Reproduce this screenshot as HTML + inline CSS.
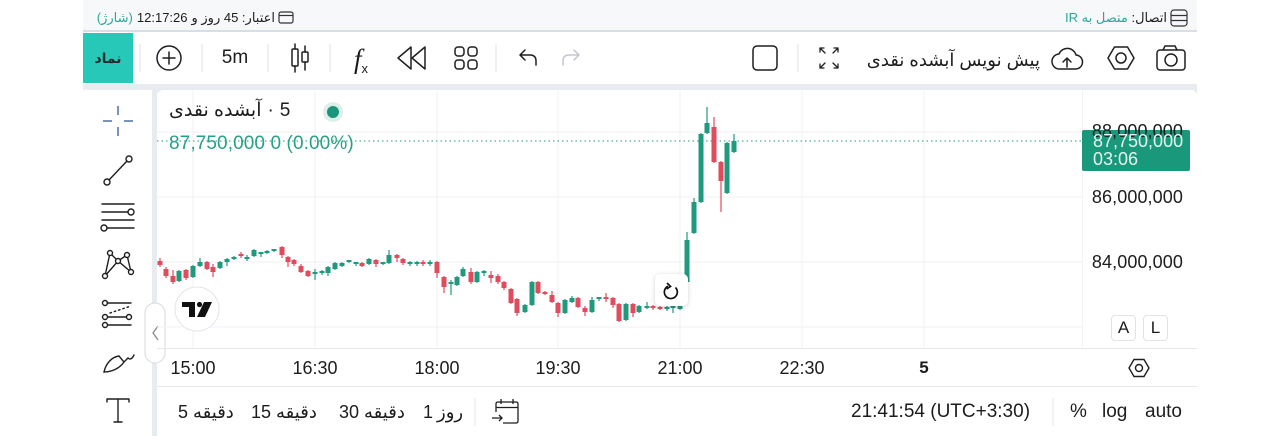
<!DOCTYPE html>
<html><head><meta charset="utf-8">
<style>
*{margin:0;padding:0;box-sizing:border-box}
body{width:1280px;height:436px;position:relative;background:#fff;overflow:hidden;font-family:"Liberation Sans","DejaVu Sans",sans-serif;color:#1c1c1c}
.t{position:absolute;white-space:nowrap;line-height:20px;height:20px}
.c{text-align:center}
.tm{font-size:18px;width:80px;text-align:center;top:358px}
.pl{font-size:18px;left:1080px;width:103px;text-align:right;letter-spacing:0.1px}
</style></head><body>
<svg width="1280" height="436" style="position:absolute;left:0;top:0">
<rect x="83" y="0" width="1114" height="31" fill="#f7f8fa"/>
<rect x="83" y="30" width="1114" height="2" fill="#d9dee6"/>
<rect x="83" y="32" width="1114" height="52" fill="#fff"/>
<rect x="83" y="84" width="1114" height="352" fill="#e8ebef"/>
<rect x="83" y="90" width="69" height="346" fill="#fff"/>
<rect x="157" y="90" width="1040" height="350" rx="6" fill="#fff"/>
<rect x="83" y="33" width="50" height="50" fill="#27c8b8"/>
<g stroke="#e3e6eb" stroke-width="1.2">
<line x1="140" y1="44" x2="140" y2="72"/><line x1="202" y1="44" x2="202" y2="72"/>
<line x1="268" y1="44" x2="268" y2="72"/><line x1="330" y1="44" x2="330" y2="72"/>
<line x1="496" y1="44" x2="496" y2="72"/><line x1="798" y1="44" x2="798" y2="72"/>
</g>
<g fill="none" stroke="#1f1f1f" stroke-width="1.5" stroke-linecap="round" stroke-linejoin="round">
<circle cx="169" cy="58" r="12"/><path d="M169 52V64M163 58H175"/>
<rect x="292" y="49" width="6" height="17" rx="1"/><path d="M295 44V49M295 66V72"/>
<rect x="302" y="52" width="6" height="10" rx="1"/><path d="M305 46V52M305 62V70"/>
<path d="M411 47L398 58L411 69Z"/><path d="M425 47L412 58L425 69Z"/>
<rect x="455" y="47" width="9" height="9" rx="3"/><rect x="468" y="47" width="9" height="9" rx="3"/>
<rect x="455" y="60" width="9" height="9" rx="3"/><rect x="468" y="60" width="9" height="9" rx="3"/>
<path d="M525 50L520 55L525 60M520 55H530Q536 55 536 61V65"/>
<rect x="753" y="46" width="24" height="24" rx="4"/>
<path d="M820 48L825 53M820 52V48H824M838 48L833 53M834 48H838V52M820 68L825 63M820 64V68H824M838 68L833 63M834 68H838V64" stroke-width="1.3"/>
<path d="M1060 69H1075A7 7 0 0 0 1076 55A9 9 0 0 0 1059 54A7.5 7.5 0 0 0 1060 69Z"/>
<path d="M1067 67V58M1063 62L1067 58L1071 62"/>
<polygon points="1108,58 1114.5,47 1127.5,47 1134,58 1127.5,69 1114.5,69"/><circle cx="1121" cy="58" r="5"/>
<rect x="1157" y="50" width="28" height="20" rx="3"/><path d="M1163 50L1165 46H1175L1177 50"/><circle cx="1171" cy="60" r="6"/>
</g>
<path d="M574 50L579 55L574 60M579 55H569Q563 55 563 61V65" fill="none" stroke="#c2c6cd" stroke-width="1.5" stroke-linecap="round" stroke-linejoin="round"/>
<g fill="none" stroke="#333" stroke-width="1.2">
<rect x="279" y="12" width="14" height="11" rx="2"/><path d="M279 15.5H293"/>
<rect x="1171" y="10" width="16" height="16" rx="3"/><path d="M1171 15.5H1187M1171 20.5H1187"/>
</g>
<path d="M103 121H112M124 121H133M118 106V115M118 127V136" stroke="#4d6fa8" stroke-width="1.5" fill="none"/>
<g fill="none" stroke="#1f1f1f" stroke-width="1.4" stroke-linecap="round">
<circle cx="107" cy="182" r="3"/><circle cx="129" cy="159" r="3"/><path d="M109 180L127 161"/>
<path d="M102 204H134M102 212H128M102 220H134M107 228H134"/><circle cx="131" cy="212" r="3"/><circle cx="104" cy="228" r="3"/>
<path d="M110 253L118 261L127 255M110 253L105 276M127 255L131 272M105 276L118 261L131 272"/>
<circle cx="110" cy="253" r="2.5" fill="#fff"/><circle cx="127" cy="255" r="2.5" fill="#fff"/><circle cx="118" cy="261" r="2.5" fill="#fff"/><circle cx="105" cy="276" r="2.5" fill="#fff"/><circle cx="131" cy="272" r="2.5" fill="#fff"/>
<path d="M107 303H131M108 317H126M108 325H131"/><circle cx="105" cy="303" r="2.5"/><circle cx="105" cy="317" r="2.5"/><circle cx="105" cy="325" r="2.5"/><circle cx="129" cy="317" r="2.5"/>
<path d="M110 313L131 306" stroke-dasharray="1.5 3"/>
<path d="M104 372C106 363 112 357 119 356L124 362C120 368 112 372 104 372ZM124 362L128 358Q131 361 134 355"/>
<path d="M107 399H129M107 399V402M129 399V402M118 399V422M114 422H122"/>
</g>
<rect x="145" y="303" width="20" height="60" rx="10" fill="#fff" stroke="#d6dae1"/>
<path d="M158 326L153 333L158 340" fill="none" stroke="#888" stroke-width="1.3"/>
<g stroke="#f0f2f5" stroke-width="1">
<line x1="193" y1="90" x2="193" y2="348"/><line x1="315" y1="90" x2="315" y2="348"/>
<line x1="437" y1="90" x2="437" y2="348"/><line x1="558" y1="90" x2="558" y2="348"/>
<line x1="680" y1="90" x2="680" y2="348"/><line x1="802" y1="90" x2="802" y2="348"/>
<line x1="924" y1="90" x2="924" y2="348"/>
<line x1="157" y1="132" x2="1082" y2="132"/><line x1="157" y1="197" x2="1082" y2="197"/>
<line x1="157" y1="262" x2="1082" y2="262"/><line x1="157" y1="327" x2="1082" y2="327"/>
</g>
<line x1="1082.5" y1="90" x2="1082.5" y2="348" stroke="#f3f4f6"/>
<line x1="157" y1="348.5" x2="1197" y2="348.5" stroke="#e4e7ec"/>
<line x1="157" y1="386.5" x2="1197" y2="386.5" stroke="#e4e7ec"/>
<line x1="475" y1="398" x2="475" y2="426" stroke="#e3e6eb"/>
<line x1="1053" y1="398" x2="1053" y2="426" stroke="#e3e6eb"/>
<g fill="none" stroke="#1f1f1f" stroke-width="1.3">
<path d="M496 412V404Q496 402 498 402H516Q518 402 518 404V421Q518 423 516 423H503M496 407.5H518M501 399V404M513 399V404M492 418H502M499 415L502 418L499 421"/>
</g>
<polygon points="1129,368 1134,359.5 1144,359.5 1149,368 1144,376.5 1134,376.5" fill="none" stroke="#1f1f1f" stroke-width="1.4"/>
<circle cx="1139" cy="368" r="3.5" fill="none" stroke="#1f1f1f" stroke-width="1.4"/>
<line x1="157" y1="141" x2="1082" y2="141" stroke="#1f9a7d" stroke-width="1" stroke-dasharray="1.5 3"/>
<g fill="#1f9a7d">
<path d="M179 270V282M193 265V278M200 258V267M220 261V269M227 258V266M234 256V260M247 255V261M254 249V257M261 252V257M267 250V254M274 249V252M315 269V280M322 270V275M328 266V276M335 262V270M342 262V267M349 260V263M356 262V266M369 258V265M383 262V265M389 250V264M410 261V266M417 261V266M430 260V266M451 280V295M457 276V286M463 267V277M477 271V283M484 270V276M525 304V313M532 281V306M565 299V314M572 296V303M592 297V313M599 297V301M626 303V321M639 305V313M647 302V309M667 306V311M673 304V313M680 305V310M687 232V283M694 198V234M701 133V203M707 107V134M727 142V194M734 134V153" stroke="#1f9a7d" stroke-width="1.2" fill="none"/>
<rect x="176.5" y="271" width="5" height="10"/><rect x="190.5" y="266" width="5" height="11"/><rect x="197.5" y="262" width="5" height="4"/><rect x="217.5" y="262" width="5" height="6"/><rect x="224.5" y="259" width="5" height="3"/><rect x="231.5" y="257" width="5" height="2"/><rect x="244.5" y="257" width="5" height="2"/><rect x="251.5" y="250" width="5" height="6"/><rect x="258.5" y="252" width="5" height="2"/><rect x="264.5" y="251" width="5" height="2"/><rect x="271.5" y="249" width="5" height="2"/><rect x="312.5" y="272" width="5" height="2"/><rect x="319.5" y="271" width="5" height="2"/><rect x="325.5" y="267" width="5" height="6"/><rect x="332.5" y="263" width="5" height="6"/><rect x="339.5" y="263" width="5" height="3"/><rect x="346.5" y="260" width="5" height="2"/><rect x="353.5" y="262" width="5" height="2"/><rect x="366.5" y="259" width="5" height="5"/><rect x="380.5" y="262" width="5" height="2"/><rect x="386.5" y="255" width="5" height="8"/><rect x="407.5" y="262" width="5" height="2"/><rect x="414.5" y="262" width="5" height="2"/><rect x="427.5" y="262" width="5" height="2"/><rect x="448.5" y="282" width="5" height="2"/><rect x="454.5" y="277" width="5" height="8"/><rect x="460.5" y="269" width="5" height="7"/><rect x="474.5" y="272" width="5" height="10"/><rect x="481.5" y="271" width="5" height="2"/><rect x="522.5" y="305" width="5" height="7"/><rect x="529.5" y="282" width="5" height="23"/><rect x="562.5" y="300" width="5" height="13"/><rect x="569.5" y="298" width="5" height="4"/><rect x="589.5" y="300" width="5" height="12"/><rect x="596.5" y="297" width="5" height="2"/><rect x="623.5" y="304" width="5" height="16"/><rect x="636.5" y="306" width="5" height="6"/><rect x="644.5" y="306" width="5" height="2"/><rect x="664.5" y="307" width="5" height="2"/><rect x="670.5" y="306" width="5" height="2"/><rect x="677.5" y="306" width="5" height="3"/><rect x="684.5" y="240" width="5" height="42"/><rect x="691.5" y="202" width="5" height="31"/><rect x="698.5" y="134" width="5" height="68"/><rect x="704.5" y="123" width="5" height="10"/><rect x="724.5" y="143" width="5" height="50"/><rect x="731.5" y="141" width="5" height="11"/>
</g>
<g fill="#e14b5e">
<path d="M160 258V267M166 267V278M173 270V284M186 269V280M207 261V270M213 264V277M241 252V258M282 246V258M288 256V267M294 259V266M301 264V273M308 270V277M362 262V267M376 259V267M397 254V262M403 258V265M423 260V266M437 261V278M444 276V293M471 268V284M491 271V283M498 274V284M504 281V290M511 288V304M517 298V316M538 281V294M545 291V295M552 291V303M558 302V317M578 297V308M585 306V316M606 293V302M613 297V308M619 303V322M633 303V317M653 305V310M660 306V310M714 117V163M721 161V212" stroke="#e14b5e" stroke-width="1.2" fill="none"/>
<rect x="157.5" y="261" width="5" height="4"/><rect x="163.5" y="269" width="5" height="7"/><rect x="170.5" y="276" width="5" height="6"/><rect x="183.5" y="270" width="5" height="8"/><rect x="204.5" y="262" width="5" height="7"/><rect x="210.5" y="267" width="5" height="5"/><rect x="238.5" y="254" width="5" height="2"/><rect x="279.5" y="247" width="5" height="8"/><rect x="285.5" y="257" width="5" height="5"/><rect x="291.5" y="260" width="5" height="4"/><rect x="298.5" y="266" width="5" height="6"/><rect x="305.5" y="271" width="5" height="5"/><rect x="359.5" y="263" width="5" height="3"/><rect x="373.5" y="260" width="5" height="4"/><rect x="394.5" y="255" width="5" height="3"/><rect x="400.5" y="259" width="5" height="4"/><rect x="420.5" y="262" width="5" height="2"/><rect x="434.5" y="262" width="5" height="11"/><rect x="441.5" y="277" width="5" height="10"/><rect x="468.5" y="272" width="5" height="10"/><rect x="488.5" y="275" width="5" height="3"/><rect x="495.5" y="276" width="5" height="6"/><rect x="501.5" y="282" width="5" height="6"/><rect x="508.5" y="289" width="5" height="14"/><rect x="514.5" y="299" width="5" height="14"/><rect x="535.5" y="282" width="5" height="11"/><rect x="542.5" y="292" width="5" height="2"/><rect x="549.5" y="295" width="5" height="7"/><rect x="555.5" y="303" width="5" height="10"/><rect x="575.5" y="298" width="5" height="9"/><rect x="582.5" y="308" width="5" height="4"/><rect x="603.5" y="297" width="5" height="2"/><rect x="610.5" y="298" width="5" height="7"/><rect x="616.5" y="304" width="5" height="17"/><rect x="630.5" y="304" width="5" height="9"/><rect x="650.5" y="306" width="5" height="2"/><rect x="657.5" y="307" width="5" height="2"/><rect x="711.5" y="127" width="5" height="35"/><rect x="718.5" y="162" width="5" height="19"/>
</g>
<circle cx="333" cy="112" r="10" fill="#dcefe9"/><circle cx="333" cy="112" r="6" fill="#1a957a"/>
<circle cx="197" cy="309" r="22" fill="#fff" stroke="#e3e6eb"/>
<path d="M182 302H195V317H189V307H182Z" fill="#111"/>
<circle cx="199.5" cy="304.5" r="2.6" fill="#111"/>
<path d="M204 302H212L205 317H197Z" fill="#111"/>
</svg>

<div style="position:absolute;left:655px;top:274px;width:33px;height:32px;background:#fff;border-radius:5px;box-shadow:0 1px 5px rgba(0,0,0,0.18)">
<svg width="33" height="32"><path d="M20.5 13.5A6.5 6.5 0 1 1 13 12.2" fill="none" stroke="#111" stroke-width="1.7"/><path d="M12 9L15.5 12.4L11.6 15" fill="none" stroke="#111" stroke-width="1.7"/></svg>
</div>

<div style="position:absolute;left:1082px;top:130px;width:108px;height:41px;background:#1a987b;border-radius:2px"></div>

<div class="t" style="top:8px;right:1005px;font-size:13px;display:flex;gap:4px;direction:ltr">
<span style="color:#2aa89a">(شارژ)</span><span>12:17:26</span><span dir="rtl">اعتبار: 45 روز و</span>
</div>
<div class="t" style="top:8px;right:113px;font-size:13px" dir="rtl">اتصال: <span style="color:#2aa89a">متصل به IR</span></div>

<div class="t c" style="left:83px;top:48px;width:50px;font-size:14px;font-weight:bold;color:#1d2d2b" dir="rtl">نماد</div>
<div class="t c" style="left:205px;top:48px;width:60px;font-size:19px">5m</div>
<div class="t" style="left:354px;top:44px;height:30px;line-height:30px;font-family:'Liberation Serif',serif;font-style:italic;font-size:27px">f<span style="font-size:13px;font-style:normal;font-family:'Liberation Sans',sans-serif;position:relative;top:5px">x</span></div>
<div class="t" style="right:240px;top:50px;font-size:18px" dir="rtl">پیش نویس آبشده نقدی</div>

<div class="t" style="left:169px;top:101px;font-size:19px;display:flex;gap:6px;align-items:center"><span dir="rtl">آبشده نقدی</span><span>·</span><span>5</span></div>
<div class="t" style="left:169px;top:134px;font-size:19px;color:#26a087;letter-spacing:0.1px">87,750,000 0 (0.00%)</div>

<div class="t pl" style="top:121px">88,000,000</div>
<div class="t pl" style="top:187px">86,000,000</div>
<div class="t pl" style="top:252px">84,000,000</div>
<div class="t" style="left:1093px;top:131px;font-size:18px;color:#e3f6f0">87,750,000</div>
<div class="t" style="left:1093px;top:149px;font-size:18px;color:#e3f6f0">03:06</div>
<div class="t c" style="left:1111px;top:315px;width:25px;height:26px;line-height:24px;font-size:17px;border:1px solid #e0e3e8;border-radius:4px;background:#fff">A</div>
<div class="t c" style="left:1143px;top:315px;width:25px;height:26px;line-height:24px;font-size:17px;border:1px solid #e0e3e8;border-radius:4px;background:#fff">L</div>

<div class="t tm" style="left:153px">15:00</div>
<div class="t tm" style="left:275px">16:30</div>
<div class="t tm" style="left:397px">18:00</div>
<div class="t tm" style="left:518px">19:30</div>
<div class="t tm" style="left:640px">21:00</div>
<div class="t tm" style="left:762px">22:30</div>
<div class="t tm" style="left:884px;font-weight:bold;font-size:17px">5</div>

<div class="t" style="left:178px;top:402px;font-size:18px;display:flex;gap:5px"><span>5</span><span>دقیقه</span></div>
<div class="t" style="left:251px;top:402px;font-size:18px;display:flex;gap:5px"><span>15</span><span>دقیقه</span></div>
<div class="t" style="left:339px;top:402px;font-size:18px;display:flex;gap:5px"><span>30</span><span>دقیقه</span></div>
<div class="t" style="left:423px;top:402px;font-size:18px;display:flex;gap:4px"><span>1</span><span>روز</span></div>
<div class="t" style="left:851px;top:402px;font-size:19px">21:41:54 (UTC+3:30)</div>
<div class="t" style="left:1070px;top:402px;font-size:19px">%</div>
<div class="t" style="left:1102px;top:402px;font-size:19px">log</div>
<div class="t" style="left:1145px;top:402px;font-size:19px">auto</div>
</body></html>
